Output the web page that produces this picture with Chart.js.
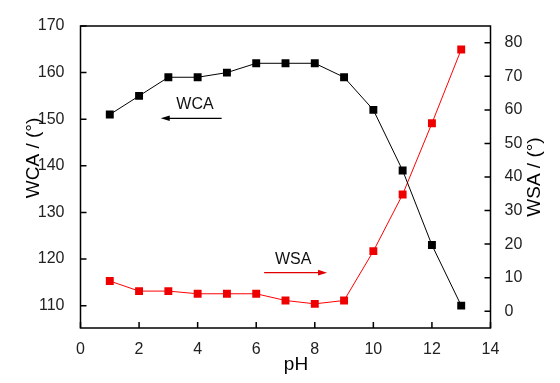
<!DOCTYPE html>
<html>
<head>
<meta charset="utf-8">
<script src="https://cdn.jsdelivr.net/npm/chart.js@4"></script>
<style>
  html, body { margin: 0; padding: 0; background: #fff; }
  #wrap { position: relative; width: 560px; height: 383px; }
</style>
</head>
<body>
<div id="wrap"><canvas id="c"></canvas></div>
<script>
// ---- data ----
const phValues  = [1, 2, 3, 4, 5, 6, 7, 8, 9, 10, 11, 12, 13];
const wcaValues = [151, 155, 159, 159, 160, 162, 162, 162, 159, 152, 139, 123, 110];
const wsaValues = [9, 6, 6, 5.2, 5.2, 5.2, 3.2, 2.2, 3.2, 17.9, 34.8, 56, 78];
const xTicks     = [0, 2, 4, 6, 8, 10, 12, 14];
const leftTicks  = [110, 120, 130, 140, 150, 160, 170];
const rightTicks = [0, 10, 20, 30, 40, 50, 60, 70, 80];
const xTitle = 'pH';
const leftTitle = 'WCA / (°)';
const rightTitle = 'WSA / (°)';
const wcaLabel = 'WCA';
const wsaLabel = 'WSA';

const FONT = "'Liberation Sans', Arial, sans-serif";

const frame = {
  id: 'frame',
  afterDraw(chart) {
    const ctx = chart.ctx, a = chart.chartArea;
    const sx = chart.scales.x, sl = chart.scales.y, sr = chart.scales.y1;
    ctx.save();
    ctx.strokeStyle = '#000';
    ctx.lineWidth = 1.5;
    ctx.strokeRect(a.left, a.top, a.right - a.left, a.bottom - a.top);
    // inward tick marks
    ctx.beginPath();
    const tl = 6;
    sx.ticks.forEach(t => { const p = sx.getPixelForValue(t.value); ctx.moveTo(p, a.bottom); ctx.lineTo(p, a.bottom - tl); });
    sl.ticks.forEach(t => { const p = sl.getPixelForValue(t.value); ctx.moveTo(a.left, p); ctx.lineTo(a.left + tl, p); });
    sr.ticks.forEach(t => { const p = sr.getPixelForValue(t.value); ctx.moveTo(a.right, p); ctx.lineTo(a.right - tl, p); });
    ctx.stroke();

    // axis titles
    ctx.fillStyle = '#000';
    ctx.font = '19px ' + FONT;
    ctx.textAlign = 'center';
    ctx.textBaseline = 'middle';
    ctx.fillText(xTitle, 296, 365);
    ctx.save(); ctx.translate(34, 158); ctx.rotate(-Math.PI / 2); ctx.fillText(leftTitle, 0, 0); ctx.restore();
    ctx.save(); ctx.translate(535, 177); ctx.rotate(-Math.PI / 2); ctx.fillText(rightTitle, 0, 0); ctx.restore();

    // annotations (in data coordinates)
    function arrow(x1, x2, y, color) {
      ctx.strokeStyle = color; ctx.fillStyle = color; ctx.lineWidth = 1.2;
      const dir = Math.sign(x2 - x1);
      ctx.beginPath(); ctx.moveTo(x1, y); ctx.lineTo(x2 - dir * 6, y); ctx.stroke();
      ctx.beginPath(); ctx.moveTo(x2, y); ctx.lineTo(x2 - dir * 9, y - 2.8); ctx.lineTo(x2 - dir * 9, y + 2.8); ctx.closePath(); ctx.fill();
    }
    const yA = sl.getPixelForValue(150.2);
    arrow(sx.getPixelForValue(4.82), sx.getPixelForValue(2.74), yA, '#000');
    const yB = sr.getPixelForValue(11.5);
    arrow(sx.getPixelForValue(6.27), sx.getPixelForValue(8.42), yB, '#e00000');
    ctx.fillStyle = '#111';
    ctx.font = '16px ' + FONT;
    ctx.fillText(wcaLabel, sx.getPixelForValue(3.91), sl.getPixelForValue(153.1));
    ctx.fillText(wsaLabel, sx.getPixelForValue(7.26), sr.getPixelForValue(15.5));
    ctx.restore();
  }
};

const tickFont = { family: FONT, size: 16 };

new Chart(document.getElementById('c'), {
  type: 'line',
  data: {
    datasets: [
      {
        label: 'WCA',
        data: phValues.map((x, i) => ({ x, y: wcaValues[i] })),
        yAxisID: 'y',
        borderColor: '#000', backgroundColor: '#000',
        borderWidth: 1, pointStyle: 'rect', pointRadius: 5.6, pointBorderWidth: 0,
        tension: 0
      },
      {
        label: 'WSA',
        data: phValues.map((x, i) => ({ x, y: wsaValues[i] })),
        yAxisID: 'y1',
        borderColor: '#ff0000', backgroundColor: '#ee0000',
        borderWidth: 1, pointStyle: 'rect', pointRadius: 5.6, pointBorderWidth: 0,
        tension: 0
      }
    ]
  },
  options: {
    responsive: true, maintainAspectRatio: false, animation: false,
    layout: { padding: { top: 26, left: 0, right: 0, bottom: 0 } },
    plugins: { legend: { display: false }, tooltip: { enabled: false } },
    scales: {
      x: {
        type: 'linear', min: 0, max: 14,
        grid: { display: false }, border: { display: false },
        afterBuildTicks: s => { s.ticks = xTicks.map(v => ({ value: v })); },
        afterFit: s => { s.height = 55; },
        ticks: { color: '#222', font: tickFont, padding: 4, maxRotation: 0 }
      },
      y: {
        position: 'left', min: 105.2, max: 170,
        grid: { display: false }, border: { display: false },
        afterBuildTicks: s => { s.ticks = leftTicks.map(v => ({ value: v })); },
        afterFit: s => { s.width = 80.5; },
        ticks: { color: '#222', font: tickFont, padding: 8 }
      },
      y1: {
        position: 'right', min: -5, max: 85,
        grid: { display: false }, border: { display: false },
        afterBuildTicks: s => { s.ticks = rightTicks.map(v => ({ value: v })); },
        afterFit: s => { s.width = 69.5; },
        ticks: { color: '#222', font: tickFont, padding: 6 }
      }
    }
  },
  plugins: [frame]
});
</script>
</body>
</html>
